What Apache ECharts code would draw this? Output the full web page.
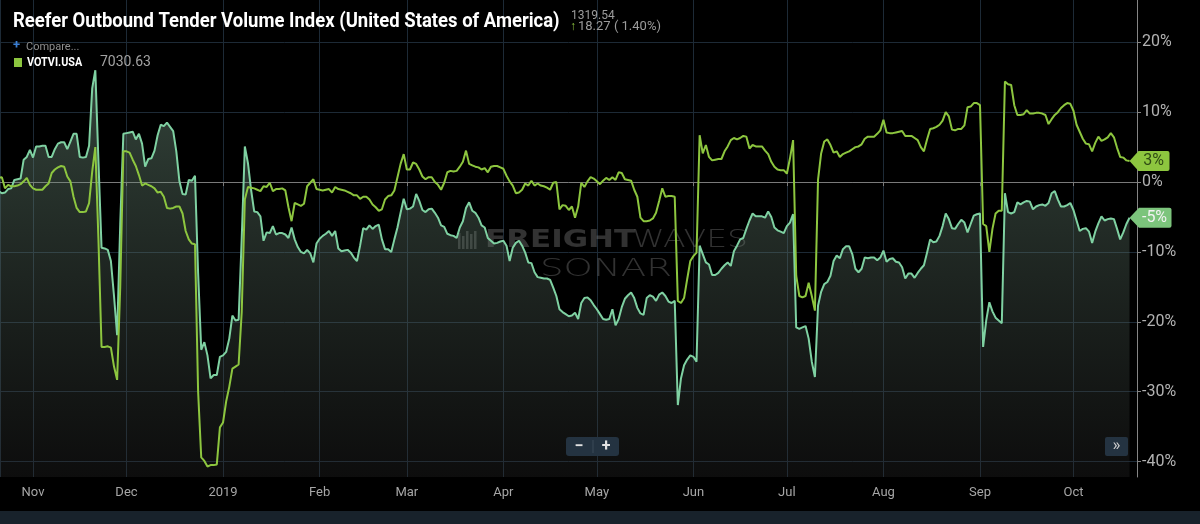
<!DOCTYPE html>
<html>
<head>
<meta charset="utf-8">
<script src="https://cdn.jsdelivr.net/npm/echarts@6/dist/echarts.min.js"></script>
<style>
html,body{margin:0;padding:0;background:#000;}
#chart{width:1200px;height:524px;}
</style>
</head>
<body>
<div id="chart"></div>
<script>
// ---- Text content ----
const titleText = 'Reefer Outbound Tender Volume Index (United States of America)';
const headerLast = '1319.54';
const headerChange = '18.27 ( 1.40%)';
const compareText = 'Compare...';
const legendName = 'VOTVI.USA';
const legendValue = '7030.63';
const monthLabels = ['Jan','Feb','Mar','Apr','May','Jun','Jul','Aug','Sep','Oct','Nov','Dec'];

// ---- Data: one reading per day starting at firstDate (YoY % change) ----
const firstDate = [2018, 10, 21]; // year, month, day
const axisStart = '2018-10-21 09:36';
const axisEnd = '2019-10-21 09:36';

// Reefer Outbound Tender Volume Index (mint line with area)
const reeferYoY = [
 -1.3,-1.6,-1.5,-1.0,-0.9,0.3,0.4,0.5,3.2,3.6,
 4.6,3.5,5.1,5.1,5.2,5.2,3.6,3.6,4.7,5.5,
 5.7,5.7,4.7,5.8,6.9,6.9,3.6,3.5,3.6,5.2,
 13.4,16.0,3.0,-9.4,-9.5,-9.7,-11.3,-16.3,-21.9,-6.0,
 6.9,7.0,7.1,7.2,6.1,6.9,5.5,2.2,3.3,3.4,
 4.5,6.7,8.2,8.0,8.5,7.9,7.3,4.4,0.1,-1.7,
 -1.8,0.3,0.2,0.9,-13.0,-24.0,-22.9,-24.8,-28.1,-27.6,
 -27.6,-25.0,-24.8,-24.3,-22.4,-19.1,-19.8,-19.7,-8.0,5.1,
 2.7,-1.1,-4.2,-4.3,-4.9,-8.4,-7.2,-7.3,-6.3,-7.5,
 -7.3,-7.3,-7.5,-8.0,-6.5,-8.2,-9.3,-10.0,-10.2,-9.7,
 -10.2,-11.5,-8.8,-8.1,-7.7,-7.4,-7.0,-7.7,-7.0,-9.5,
 -9.9,-9.8,-9.7,-10.1,-10.8,-11.3,-9.1,-6.6,-6.8,-6.2,
 -6.7,-6.3,-6.1,-8.2,-9.6,-9.6,-10.0,-8.2,-6.5,-4.4,
 -2.4,-3.9,-3.8,-3.5,-1.7,-2.7,-4.0,-4.3,-3.9,-3.8,
 -4.4,-5.1,-6.2,-6.4,-7.4,-7.6,-7.7,-8.0,-6.5,-5.6,
 -3.7,-2.9,-4.1,-4.4,-5.1,-6.2,-6.5,-8.0,-8.4,-8.8,
 -8.7,-8.5,-8.4,-9.1,-11.3,-9.4,-8.7,-8.4,-9.1,-10.1,
 -11.5,-11.6,-12.9,-13.6,-13.7,-13.8,-13.8,-14.0,-15.1,-16.3,
 -18.2,-18.6,-18.9,-19.2,-19.1,-18.7,-19.6,-17.3,-16.6,-16.5,
 -16.9,-17.6,-18.2,-18.9,-19.6,-19.7,-19.6,-18.2,-20.5,-19.6,
 -17.9,-16.7,-16.2,-15.8,-16.6,-18.0,-18.8,-19.0,-16.6,-16.2,
 -16.4,-17.0,-16.1,-15.8,-16.3,-17.1,-17.3,-17.0,-31.9,-28.1,
 -26.2,-25.4,-24.8,-25.0,-25.7,-9.1,-10.3,-11.5,-11.8,-13.3,
 -13.3,-13.0,-12.4,-11.9,-11.5,-12.0,-9.9,-9.1,-8.2,-8.0,
 -6.7,-5.5,-4.5,-4.9,-4.9,-4.9,-5.1,-4.2,-5.0,-6.5,
 -6.9,-7.1,-7.3,-6.3,-5.8,-4.6,-20.8,-21.0,-20.8,-20.6,
 -22.4,-25.7,-27.9,-17.7,-15.7,-14.6,-14.3,-13.4,-11.3,-10.5,
 -10.9,-9.6,-9.2,-9.2,-10.3,-12.4,-12.9,-12.4,-10.8,-10.9,
 -10.8,-10.8,-11.2,-10.8,-9.8,-11.4,-11.0,-10.9,-11.4,-11.5,
 -12.2,-13.8,-13.1,-13.1,-13.7,-13.0,-12.4,-11.9,-10.1,-8.2,
 -8.6,-8.5,-7.7,-6.3,-4.5,-5.3,-6.6,-6.7,-6.0,-5.4,
 -5.8,-7.2,-6.0,-4.8,-4.6,-4.5,-23.6,-19.8,-17.2,-18.5,
 -19.4,-19.8,-20.2,-1.6,-4.3,-4.5,-4.3,-2.9,-3.2,-2.9,
 -2.7,-2.8,-3.9,-3.5,-3.3,-3.2,-3.4,-3.0,-1.6,-1.3,
 -2.5,-3.5,-3.5,-3.3,-3.0,-4.0,-5.5,-7.0,-6.7,-6.6,
 -7.1,-8.7,-7.1,-5.9,-4.9,-5.5,-5.3,-5.2,-5.3,-6.7,
 -8.2,-7.2,-6.0,-5.1
];

// VOTVI.USA (green line)
const votviYoY = [
 0.6,0.7,-0.9,-0.4,-0.6,-0.6,-0.5,-0.3,0.1,0.6,
 -0.4,-0.9,-1.1,-1.1,-1.1,-0.6,-0.2,1.3,1.8,2.1,
 2.3,2.2,0.8,0.1,-2.1,-3.7,-4.3,-4.3,-4.2,-3.0,
 1.5,5.0,-8.2,-23.6,-23.6,-23.5,-23.7,-26.4,-28.3,-15.0,
 4.4,4.4,4.2,3.2,2.3,1.0,-0.5,-0.2,-0.4,-0.6,
 -0.9,-1.5,-1.4,-2.1,-3.7,-3.8,-3.7,-3.5,-3.5,-4.5,
 -7.0,-8.2,-8.8,-8.9,-30.0,-39.4,-39.9,-40.7,-40.5,-40.5,
 -40.4,-35.1,-34.4,-31.4,-29.3,-26.7,-26.4,-26.1,-18.6,-2.5,
 -0.7,-0.8,-0.9,-1.1,-1.3,-0.6,-0.7,-0.1,-1.3,-1.0,
 -1.0,-0.9,-1.2,-3.6,-5.6,-3.0,-3.2,-3.4,-3.1,-0.6,
 -0.1,0.4,-1.0,-1.1,-1.2,-1.1,-1.0,-1.5,-0.7,-1.0,
 -1.1,-1.2,-1.4,-1.6,-1.9,-1.9,-2.4,-2.1,-2.1,-2.5,
 -3.2,-3.6,-4.1,-3.9,-2.5,-2.0,-1.9,-1.2,0.7,2.6,
 4.0,1.8,1.8,2.8,2.6,1.8,0.8,0.4,0.7,0.7,
 0.0,-0.4,-1.1,-0.1,1.4,1.6,1.5,1.6,2.2,2.9,
 4.5,2.6,2.4,2.2,2.1,1.8,2.0,1.4,2.2,2.3,
 2.3,2.1,1.9,0.9,0.1,-0.5,-1.6,-1.5,-1.1,-0.2,
 -0.5,0.2,-0.5,-0.2,-0.5,-0.6,-0.8,-1.1,-0.1,0.0,
 -3.9,-3.3,-3.4,-4.0,-3.5,-5.1,-3.5,-0.1,-0.7,0.1,
 0.7,0.5,0.1,-0.3,0.2,0.6,0.3,0.7,0.3,1.4,
 1.3,0.4,0.3,0.2,-1.1,-2.1,-5.1,-5.6,-5.6,-5.5,
 -5.2,-4.4,-2.7,-0.9,-2.1,-2.0,-2.0,-2.1,-17.0,-17.3,
 -16.6,-13.9,-11.3,-10.6,-10.1,6.7,4.1,5.3,3.6,3.1,
 3.2,3.3,3.3,4.4,5.1,6.0,6.3,6.1,6.3,6.6,
 6.5,4.8,5.3,5.1,5.1,5.1,4.5,4.0,2.9,2.2,
 1.8,1.7,1.7,1.2,3.4,6.0,-13.4,-16.3,-16.5,-16.3,
 -14.4,-16.3,-18.4,0.3,4.1,5.8,6.1,5.3,4.2,4.4,
 3.6,4.0,4.2,4.4,4.7,5.0,5.1,5.4,6.2,6.5,
 6.5,6.5,6.9,7.4,8.9,7.1,7.0,7.0,7.1,7.2,
 7.3,6.6,6.6,6.6,6.3,6.0,5.0,4.4,6.1,7.6,
 7.7,7.9,8.2,8.8,10.0,9.4,7.5,7.4,7.6,7.6,
 8.1,10.7,10.8,11.3,11.3,11.0,-6.0,-6.3,-10.0,-6.7,
 -4.5,-4.1,-4.1,14.4,14.0,13.9,11.0,9.6,9.6,9.7,
 10.3,9.8,9.8,9.9,9.9,9.8,9.6,8.3,9.0,9.6,
 10.0,10.6,11.0,11.3,11.2,10.2,8.2,7.2,6.2,5.5,
 5.4,4.4,5.6,6.5,5.9,6.1,6.4,7.0,6.4,4.9,
 3.6,3.5,3.1,3.0
];

// ---- Build daily date categories ----
function pad(n){ return (n < 10 ? '0' : '') + n; }
const dates = reeferYoY.map(function(_, i){
  const d = new Date(firstDate[0], firstDate[1] - 1, firstDate[2] + i);
  return d.getFullYear() + '-' + pad(d.getMonth() + 1) + '-' + pad(d.getDate());
});
const reeferData = dates.map(function(d, i){ return [d, reeferYoY[i]]; });
const votviData = dates.map(function(d, i){ return [d, votviYoY[i]]; });
const lastIdx = dates.length - 1;

const FONT = 'Roboto, "Noto Sans", sans-serif';
const MINT = '#7fd1a2';
const GREEN = '#8dc63f';
const GRID = '#1d2a36';
const tagPath = 'path://M0,10L9,0L38,0Q40,0,40,2L40,18Q40,20,38,20L9,20Z';

const chart = echarts.init(document.getElementById('chart'));
const wmColor = 'rgba(120,120,120,0.42)';

const option = {
  backgroundColor: '#000',
  animation: false,
  grid: { left: 0, right: 63, top: 0, bottom: 47, containLabel: false },
  xAxis: {
    type: 'time',
    min: axisStart,
    max: axisEnd,
    splitNumber: 12,
    axisLine: { show: true, lineStyle: { color: '#7a7a7a', width: 1 } },
    axisTick: { show: true, length: 4, lineStyle: { color: '#7a7a7a' } },
    axisLabel: {
      color: '#a6a6a6', fontSize: 13, fontFamily: FONT, margin: 9,
      formatter: function (val) {
        const d = new Date(val);
        return d.getMonth() === 0 ? String(d.getFullYear()) : monthLabels[d.getMonth()];
      }
    },
    splitLine: { show: true, lineStyle: { color: GRID, width: 1 } }
  },
  yAxis: {
    type: 'value',
    position: 'right',
    min: -42.2,
    max: 26.05,
    splitNumber: 7,
    axisLine: { show: true, lineStyle: { color: '#858585' } },
    axisTick: { show: true, length: 4, lineStyle: { color: '#858585' } },
    axisLabel: {
      color: '#b2b2b2', fontSize: 16, fontFamily: FONT, margin: 5,
      showMinLabel: false, showMaxLabel: false,
      formatter: function (v) { return v + '%'; }
    },
    splitLine: { show: true, showMinLine: false, showMaxLine: false, lineStyle: { color: GRID, width: 1 } }
  },
  series: [
    {
      name: 'Reefer Outbound Tender Volume Index',
      type: 'line',
      data: reeferData,
      showSymbol: false,
      symbol: 'none',
      z: 2,
      lineStyle: { color: MINT, width: 2 },
      itemStyle: { color: MINT },
      areaStyle: {
        origin: 'start',
        color: new echarts.graphic.LinearGradient(0, 0, 0, 1, [
          { offset: 0, color: 'rgba(130,172,148,0.56)' },
          { offset: 1, color: 'rgba(45,45,45,0.42)' }
        ])
      },
      markPoint: {
        silent: true,
        symbol: tagPath,
        symbolSize: [42, 20],
        symbolOffset: [21, 0],
        symbolKeepAspect: false,
        itemStyle: { color: '#7cc47c' },
        label: {
          show: true, position: 'inside', offset: [4, 0],
          color: '#f2f2f2', fontSize: 16, fontFamily: FONT,
          formatter: function (p) { return Math.round(p.value) + '%'; }
        },
        data: [{ coord: reeferData[lastIdx], value: reeferYoY[lastIdx] }]
      }
    },
    {
      name: legendName,
      type: 'line',
      data: votviData,
      showSymbol: false,
      symbol: 'none',
      z: 3,
      lineStyle: { color: GREEN, width: 2 },
      itemStyle: { color: GREEN },
      markPoint: {
        silent: true,
        symbol: tagPath,
        symbolSize: [40, 20],
        symbolOffset: [20, 0],
        symbolKeepAspect: false,
        itemStyle: { color: GREEN },
        label: {
          show: true, position: 'inside', offset: [4, 0],
          color: '#2f4a14', fontSize: 16, fontFamily: FONT,
          formatter: function (p) { return Math.round(p.value) + '%'; }
        },
        data: [{ coord: votviData[lastIdx], value: votviYoY[lastIdx] }]
      }
    }
  ],
  graphic: [
    // header
    { type: 'text', x: 13, y: 11, scaleX: 0.88, z: 10,
      style: { text: titleText, fill: '#ffffff', font: 'bold 21px ' + FONT, textVerticalAlign: 'top', verticalAlign: 'top' } },
    { type: 'text', x: 571, y: 10, z: 10,
      style: { text: headerLast, fill: '#9c9c9c', font: '12px ' + FONT, textVerticalAlign: 'top', verticalAlign: 'top' } },
    { type: 'text', x: 570, y: 21, z: 10,
      style: { text: '\u2191', fill: GREEN, font: 'bold 12px ' + FONT, textVerticalAlign: 'top', verticalAlign: 'top' } },
    { type: 'text', x: 578, y: 20, z: 10,
      style: { text: headerChange, fill: '#9c9c9c', font: '13px ' + FONT, textVerticalAlign: 'top', verticalAlign: 'top' } },
    // compare / legend
    { type: 'text', x: 13, y: 39, z: 10,
      style: { text: '+', fill: '#3b7fd4', font: 'bold 13px ' + FONT, textVerticalAlign: 'top', verticalAlign: 'top' } },
    { type: 'text', x: 26, y: 42, z: 10,
      style: { text: compareText, fill: '#8e8e8e', font: '11px ' + FONT, textVerticalAlign: 'top', verticalAlign: 'top' } },
    { type: 'rect', z: 10, shape: { x: 14, y: 58, width: 8, height: 9 }, style: { fill: GREEN } },
    { type: 'text', x: 27, y: 57, scaleX: 0.9, z: 10,
      style: { text: legendName, fill: '#ffffff', font: 'bold 12px ' + FONT, textVerticalAlign: 'top', verticalAlign: 'top' } },
    { type: 'text', x: 100, y: 55, z: 10,
      style: { text: legendValue, fill: '#a2a2a2', font: '14px ' + FONT, textVerticalAlign: 'top', verticalAlign: 'top' } },
    // watermark
    { type: 'rect', z: 1, shape: { x: 458, y: 233, width: 2.5, height: 16 }, style: { fill: wmColor } },
    { type: 'rect', z: 1, shape: { x: 462, y: 236, width: 2.5, height: 13 }, style: { fill: wmColor } },
    { type: 'rect', z: 1, shape: { x: 466, y: 231, width: 2.5, height: 18 }, style: { fill: wmColor } },
    { type: 'rect', z: 1, shape: { x: 470, y: 234, width: 2.5, height: 15 }, style: { fill: wmColor } },
    { type: 'rect', z: 1, shape: { x: 474, y: 231, width: 2.5, height: 18 }, style: { fill: wmColor } },
    { type: 'text', x: 485, y: 241, scaleX: 1.29, z: 1,
      style: { text: 'FREIGHT', fill: wmColor, font: 'bold 24px "DejaVu Sans"', textVerticalAlign: 'middle', verticalAlign: 'middle' } },
    { type: 'text', x: 632, y: 241, scaleX: 1.38, z: 1,
      style: { text: 'WAVES', fill: wmColor, font: '200 24px "DejaVu Sans"', textVerticalAlign: 'middle', verticalAlign: 'middle' } },
    { type: 'text', x: 540, y: 270, scaleX: 1.55, z: 1,
      style: { text: 'SONAR', fill: wmColor, font: '200 24px "DejaVu Sans"', textVerticalAlign: 'middle', verticalAlign: 'middle' } },
    // zoom buttons
    { type: 'rect', z: 10, shape: { x: 566, y: 437, width: 53, height: 19, r: 3 }, style: { fill: '#243341' } },
    { type: 'rect', z: 11, shape: { x: 592.5, y: 440, width: 1, height: 13 }, style: { fill: '#3a4a58' } },
    { type: 'text', x: 579, y: 446.5, z: 11,
      style: { text: '\u2212', fill: '#e2e2e2', font: 'bold 16px ' + FONT, textAlign: 'center', align: 'center', textVerticalAlign: 'middle', verticalAlign: 'middle' } },
    { type: 'text', x: 606, y: 446.5, z: 11,
      style: { text: '+', fill: '#e2e2e2', font: 'bold 16px ' + FONT, textAlign: 'center', align: 'center', textVerticalAlign: 'middle', verticalAlign: 'middle' } },
    { type: 'rect', z: 10, shape: { x: 1105, y: 437, width: 23, height: 19, r: 2 }, style: { fill: '#243341' } },
    { type: 'text', x: 1116.5, y: 446, z: 11,
      style: { text: '\u00bb', fill: '#cfcfcf', font: '17px ' + FONT, textAlign: 'center', align: 'center', textVerticalAlign: 'middle', verticalAlign: 'middle' } },
    // bottom band
    { type: 'rect', z: 10, shape: { x: 0, y: 511, width: 1200, height: 13 }, style: { fill: '#18222b' } }
  ]
};

chart.setOption(option);
</script>
</body>
</html>
